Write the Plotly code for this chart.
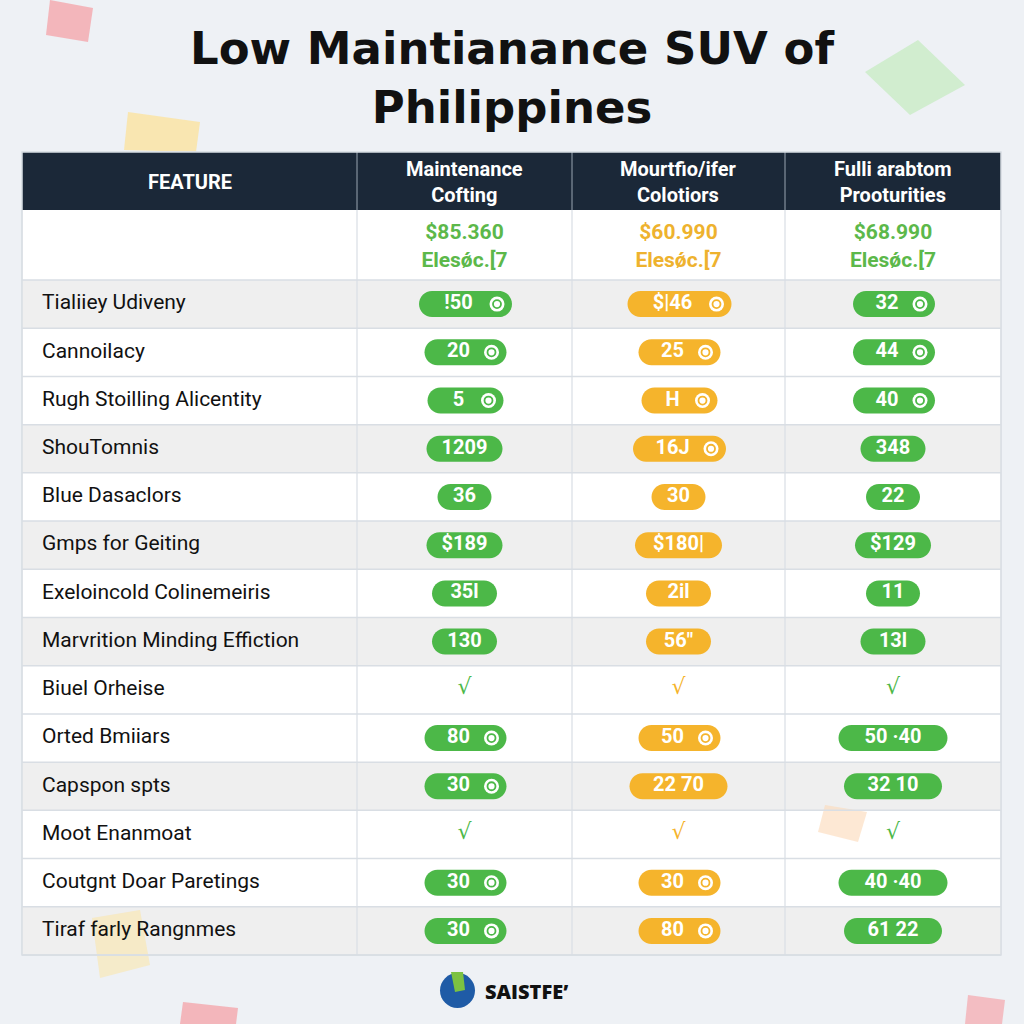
import plotly.graph_objects as go

# ---------------- data ----------------
title_lines = ["Low Maintianance SUV of", "Philippines"]
header_labels = ["FEATURE", "Maintenance<br>Cofting", "Mourtfio/ifer<br>Colotiors", "Fulli arabtom<br>Prooturities"]
prices = ["$85.360", "$60.990", "$68.990"]
price_sub = ["Elesǿc.[7", "Elesǿc.[7", "Elesǿc.[7"]

features = [
    "Tialiiey Udiveny", "Cannoilacy", "Rugh Stoilling Alicentity", "ShouTomnis",
    "Blue Dasaclors", "Gmps for Geiting", "Exeloincold Colinemeiris",
    "Marvrition Minding Effiction", "Biuel Orheise", "Orted Bmiiars",
    "Capspon spts", "Moot Enanmoat", "Coutgnt Doar Paretings", "Tiraf farly Rangnmes",
]
col1_vals = ["!50", "20", "5", "1209", "36", "$189", "35l", "130", "✓", "80", "30", "✓", "30", "30"]
col2_vals = ["$|46", "25", "H", "16J", "30", "$180|", "2il", "56\"", "✓", "50", "22 70", "✓", "30", "80"]
col3_vals = ["32", "44", "40", "348", "22", "$129", "11", "13l", "✓", "50 ·40", "32 10", "✓", "40 ·40", "61 22"]
col1_icons = [1, 1, 1, 0, 0, 0, 0, 0, 0, 1, 1, 0, 1, 1]
col2_icons = [1, 1, 1, 1, 0, 0, 0, 0, 0, 1, 0, 0, 1, 1]
col3_icons = [1, 1, 1, 0, 0, 0, 0, 0, 0, 0, 0, 0, 0, 0]
row_shaded = [1, 0, 0, 1, 0, 1, 0, 1, 0, 0, 1, 0, 0, 1]
footer_brand = "SAISTFE"

# ---------------- styling ----------------
BG = "#eef1f5"
NAVY = "#1b2838"
GREEN = "#4cb848"
ORANGE = "#f5b42c"
GRID = "#d9dee4"
SHADE = "#efefef"
col_colors = [GREEN, ORANGE, GREEN]
price_colors = ["#5cb84a", "#eeb22e", "#5cb84a"]

col_x = [22, 357, 572, 785, 1001]
head_top, head_bot = 152, 210
price_bot = 280
table_bot = 955
n = len(features)
row_h = (table_bot - price_bot) / n
row_tops = [price_bot + i * row_h for i in range(n)]
col_centers = [(col_x[i] + col_x[i + 1]) / 2 for i in range(4)]

fig = go.Figure()
shapes = []

def poly(pts, color, op, layer="below"):
    p = "M " + " L ".join(f"{x},{y}" for x, y in pts) + " Z"
    return dict(type="path", path=p, fillcolor=color, line=dict(width=0), opacity=op, layer=layer)

# decorative squares
shapes += [
    poly([(50, 0), (93, 8), (88, 42), (46, 35)], "#f4a7ad", 0.8),
    poly([(128, 112), (200, 122), (196, 152), (124, 150)], "#fbe3a0", 0.8),
    poly([(865, 72), (918, 40), (965, 85), (910, 115)], "#cdeccb", 0.9),
    poly([(183, 1002), (238, 1008), (236, 1024), (180, 1024)], "#f4a7ad", 0.8),
    poly([(968, 995), (1005, 1000), (1002, 1024), (965, 1024)], "#f4b0b5", 0.8),
]

# table
shapes.append(dict(type="rect", x0=col_x[0], x1=col_x[-1], y0=head_top, y1=table_bot,
                   fillcolor="white", line=dict(color=GRID, width=1), layer="below"))
shapes.append(dict(type="rect", x0=col_x[0], x1=col_x[-1], y0=head_top, y1=head_bot,
                   fillcolor=NAVY, line=dict(width=0), layer="below"))
for i, s in enumerate(row_shaded):
    if s:
        shapes.append(dict(type="rect", x0=col_x[0], x1=col_x[-1], y0=row_tops[i], y1=row_tops[i] + row_h,
                           fillcolor=SHADE, line=dict(width=0), layer="below"))
shapes += [
    poly([(92, 918), (140, 910), (150, 965), (100, 978)], "#fbe6a6", 0.55),
    poly([(825, 805), (867, 812), (858, 842), (818, 832)], "#fbd9b8", 0.6),
]
for i in range(n + 1):
    y = price_bot + i * row_h
    shapes.append(dict(type="line", x0=col_x[0], x1=col_x[-1], y0=y, y1=y,
                       line=dict(color=GRID, width=1.5), layer="below"))
for x in col_x[1:-1]:
    shapes.append(dict(type="line", x0=x, x1=x, y0=head_bot, y1=table_bot,
                       line=dict(color=GRID, width=1.2), layer="below"))
    shapes.append(dict(type="line", x0=x, x1=x, y0=head_top, y1=head_bot,
                       line=dict(color="#9aa5b1", width=1), layer="below"))
shapes.append(dict(type="rect", x0=col_x[0], x1=col_x[-1], y0=head_top, y1=table_bot,
                   fillcolor="rgba(0,0,0,0)", line=dict(color=GRID, width=1.5), layer="below"))

K = 0.5523
def pill(x0, x1, yc, h, color):
    r = h / 2
    y0, y1 = yc - r, yc + r
    a, b = x0 + r, x1 - r
    p = (f"M {a},{y0} L {b},{y0} "
         f"C {b + K * r},{y0} {x1},{yc - K * r} {x1},{yc} "
         f"C {x1},{yc + K * r} {b + K * r},{y1} {b},{y1} "
         f"L {a},{y1} "
         f"C {a - K * r},{y1} {x0},{yc + K * r} {x0},{yc} "
         f"C {x0},{yc - K * r} {a - K * r},{y0} {a},{y0} Z")
    return dict(type="path", path=p, fillcolor=color, line=dict(width=0), layer="below")

all_vals = [col1_vals, col2_vals, col3_vals]
all_icons = [col1_icons, col2_icons, col3_icons]

for c in range(3):
    cx = col_centers[c + 1]
    color = col_colors[c]
    tx, ty, tt = [], [], []
    ix, iy = [], []
    cx_chk, cy_chk = [], []
    for i in range(n):
        v = all_vals[c][i]
        yc = row_tops[i] + row_h / 2
        if v == "✓":
            cx_chk.append(cx)
            cy_chk.append(yc - 1)
            continue
        icon = all_icons[c][i]
        w = 11 * len(v.replace(" ", "  ")) + 32 + (28 if icon else 0)
        if icon:
            w = max(w, 76)
        x0 = cx - w / 2 + (1 if icon else 0)
        x1 = x0 + w
        shapes.append(pill(x0, x1, yc, 26, color))
        if icon:
            tx.append(cx - 6)
            ix.append(x1 - 15)
            iy.append(yc)
        else:
            tx.append(cx)
        ty.append(yc)
        tt.append(v)
    fig.add_trace(go.Scatter(x=tx, y=ty, text=tt, mode="text", hoverinfo="skip",
                             textfont=dict(family="Roboto", size=20, color="white", weight="bold"),
                             cliponaxis=False, showlegend=False))
    if ix:
        fig.add_trace(go.Scatter(x=ix, y=iy, mode="markers", hoverinfo="skip",
                                 marker=dict(symbol="circle", size=15, color="white", line=dict(width=0)),
                                 showlegend=False))
        fig.add_trace(go.Scatter(x=ix, y=iy, mode="markers", hoverinfo="skip",
                                 marker=dict(symbol="circle-open", size=8, color=color, line=dict(width=1.8)),
                                 showlegend=False))
    fig.add_trace(go.Scatter(x=cx_chk, y=cy_chk, text=["√"] * len(cx_chk), mode="text", hoverinfo="skip",
                             textfont=dict(family="DejaVu Sans", size=22, color=color),
                             cliponaxis=False, showlegend=False))

fig.add_trace(go.Scatter(
    x=[42] * n, y=[t + row_h / 2 for t in row_tops], text=features, mode="text",
    textposition="middle right", hoverinfo="skip", cliponaxis=False, showlegend=False,
    textfont=dict(family="Roboto", size=21, color="#111111"),
))

fig.add_trace(go.Scatter(
    x=col_centers[1:], y=[234] * 3, text=prices, mode="text", hoverinfo="skip", showlegend=False,
    textfont=dict(family="Roboto", size=21, color=price_colors, weight="bold"), cliponaxis=False,
))
fig.add_trace(go.Scatter(
    x=col_centers[1:], y=[262] * 3, text=price_sub, mode="text", hoverinfo="skip", showlegend=False,
    textfont=dict(family="Roboto", size=21, color=price_colors, weight="bold"), cliponaxis=False,
))

annotations = []
annotations.append(dict(x=512, y=78, xref="x", yref="y", text="<br>".join(title_lines), showarrow=False,
                        font=dict(family="DejaVu Sans", size=45, color="#111111", weight="bold"),
                        align="center", yanchor="middle", xanchor="center"))
for i, lab in enumerate(header_labels):
    annotations.append(dict(x=col_centers[i], y=(head_top + head_bot) / 2 + 1, xref="x", yref="y", text=lab,
                            showarrow=False, align="center",
                            font=dict(family="Roboto", size=20, color="white", weight="bold")))
shapes.append(dict(type="circle", x0=440, x1=475, y0=973, y1=1008, fillcolor="#1f5ba6",
                   line=dict(width=0), layer="below"))
shapes.append(poly([(451, 972), (463, 972), (465, 990), (455, 992)], "#7cc242", 1.0))
annotations.append(dict(x=483, y=991, xref="x", yref="y", text=footer_brand + "’", showarrow=False,
                        xanchor="left", font=dict(family="Open Sans", size=20, color="#111111", weight=800)))

fig.update_layout(
    width=1024, height=1024, margin=dict(l=0, r=0, t=0, b=0),
    paper_bgcolor=BG, plot_bgcolor=BG,
    xaxis=dict(range=[0, 1024], visible=False, fixedrange=True),
    yaxis=dict(range=[1024, 0], visible=False, fixedrange=True),
    shapes=shapes, annotations=annotations, showlegend=False,
)
fig.write_html("out.html", config={"displayModeBar": False},
               post_script="document.body.style.margin='0';document.body.style.background='#eef1f5';")
